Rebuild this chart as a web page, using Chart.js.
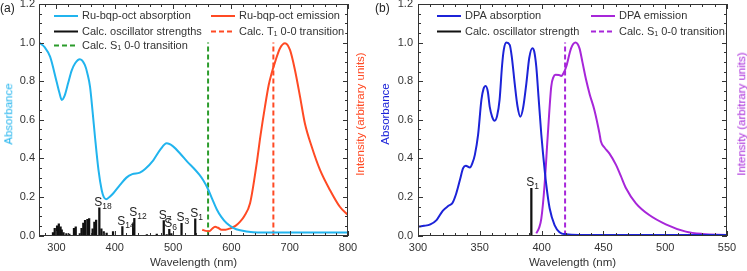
<!DOCTYPE html>
<html>
<head>
<meta charset="utf-8">
<script src="https://cdn.jsdelivr.net/npm/chart.js@4"></script>
<style>
  body { margin: 0; background: #fff; width: 747px; height: 271px; position: relative; overflow: hidden;
         font-family: "Liberation Sans", Arial, sans-serif; }
  .panel { position: absolute; top: 0; height: 271px; }
  #pa { left: 0; width: 380px; }
  #pb { left: 380px; width: 367px; }
  .tag { position: absolute; font-size: 12px; color: #222; line-height: 1; }
  .vt { position: absolute; font-size: 11.5px; white-space: nowrap; line-height: 1;
        transform: translate(-50%, -50%) rotate(-90deg); }
</style>
</head>
<body>
<div class="panel" id="pa"><canvas id="chartA"></canvas></div>
<div class="panel" id="pb"><canvas id="chartB"></canvas></div>

<div class="tag" style="left:0;top:2px">(a)</div>
<div class="tag" style="left:375px;top:2px">(b)</div>
<div class="vt" style="left:9px;top:114px;color:#21b4ee">Absorbance</div>
<div class="vt" style="left:361px;top:114px;color:#ff4a24">Intensity (arbitrary units)</div>
<div class="vt" style="left:386px;top:114px;color:#1c23d8">Absorbance</div>
<div class="vt" style="left:742px;top:114px;color:#a726d9">Intensity (arbitrary units)</div>

<script>
// ── Panel (a): Ru-bqp-oct ───────────────────────────────────────
const aAbsX = [270, 280, 289, 300, 305, 309, 314, 320, 326, 332, 340, 348.6, 353, 357.5, 362, 366, 372, 377.5, 381,
  385, 391, 397.5, 409, 420, 430, 443, 452, 466, 478, 489, 500, 512, 525, 535, 545, 552, 560, 567, 575, 583, 592,
  603, 615, 637, 680, 740, 800];
const aAbsY = [1.0, 0.975, 0.927, 0.80, 0.74, 0.703, 0.725, 0.79, 0.855, 0.893, 0.914, 0.884, 0.84, 0.772, 0.64,
  0.512, 0.34, 0.236, 0.2, 0.188, 0.2, 0.219, 0.262, 0.3, 0.318, 0.326, 0.345, 0.39, 0.445, 0.478, 0.462, 0.425,
  0.38, 0.35, 0.315, 0.285, 0.24, 0.19, 0.135, 0.095, 0.063, 0.04, 0.027, 0.017, 0.015, 0.015, 0.015];

const aEmX = [550, 556, 562, 567, 572, 577, 583, 590, 598, 607, 615, 622, 632, 643.4, 650, 657.6, 664, 669, 675,
  683.4, 692, 700.5, 709, 717.7, 726, 737.8, 752, 769, 786, 800];
const aEmY = [0.03, 0.024, 0.022, 0.035, 0.045, 0.04, 0.03, 0.03, 0.037, 0.05, 0.072, 0.1, 0.167, 0.374, 0.52,
  0.668, 0.78, 0.841, 0.9, 0.971, 0.997, 0.962, 0.858, 0.72, 0.582, 0.46, 0.34, 0.236, 0.149, 0.106];

// Oscillator strengths (sticks)
const aOscX = [294, 297, 301, 304, 307, 309, 312, 317, 322, 330, 333, 340, 343, 346, 349, 353, 356, 362, 365, 368,
  373.5, 377, 381, 386, 397, 413, 431.5, 433.5, 455, 472, 484, 489, 493.5, 497, 514.5, 538];
const aOscY = [0.015, 0.037, 0.05, 0.06, 0.045, 0.03, 0.015, 0.01, 0.007, 0.037, 0.045, 0.01, 0.037, 0.065, 0.078,
  0.084, 0.088, 0.035, 0.07, 0.08, 0.144, 0.035, 0.02, 0.012, 0.02, 0.046, 0.06, 0.089, 0.005, 0.008, 0.077, 0.005,
  0.032, 0.01, 0.063, 0.086];
const aStateX = [373.5, 413, 433.5, 484, 493.5, 514.5, 538];
const aStateN = ['18', '14', '12', '7', '6', '3', '1'];

const aS1 = 560;   // Calc. S1 0-0
const aT1 = 672;   // Calc. T1 0-0
const aXTicks = [300, 400, 500, 600, 700, 800];

// ── Panel (b): DPA ──────────────────────────────────────────────
const bAbsX = [300, 305, 310, 315, 320, 325, 328, 331, 334, 336.5, 338.7, 342, 344, 346, 348.6, 351.3, 353, 354.8,
  356.5, 358, 360, 362, 364, 366, 368, 369.4, 371.5, 374.2, 376, 378.2, 380.5, 382.8, 385, 387.7, 390, 392.5, 394,
  395.7, 397.5, 399.8, 401, 403.8, 406.5, 410.5, 414.5, 420, 430, 550];
const bAbsY = [0.046, 0.05, 0.058, 0.08, 0.128, 0.155, 0.17, 0.219, 0.29, 0.349, 0.362, 0.352, 0.375, 0.418, 0.521,
  0.703, 0.76, 0.775, 0.745, 0.668, 0.615, 0.595, 0.62, 0.703, 0.88, 0.962, 1.0, 0.988, 0.92, 0.79, 0.67, 0.616,
  0.66, 0.79, 0.92, 0.971, 0.955, 0.875, 0.72, 0.521, 0.435, 0.262, 0.141, 0.054, 0.017, 0.006, 0.003, 0.003];

const bEmX = [395.7, 398, 399.8, 402.4, 405, 407.8, 409.5, 411.3, 414, 415.9, 418, 419.9, 423.9, 427.4, 430.6, 433,
  436, 439, 442.7, 446.8, 448, 451, 454.8, 460.2, 464, 468.3, 476.3, 487.1, 500.5, 516.7, 530, 550];
const bEmY = [0.011, 0.04, 0.089, 0.262, 0.521, 0.772, 0.82, 0.833, 0.832, 0.827, 0.845, 0.875, 0.971, 1.0, 0.971,
  0.9, 0.807, 0.73, 0.651, 0.53, 0.487, 0.455, 0.426, 0.366, 0.31, 0.245, 0.167, 0.106, 0.058, 0.02, 0.008, 0.003];

const bOscX = [391.7];
const bOscY = [0.245];
const bStateX = [391.7];
const bStateN = ['1'];
const bS1 = 419;
const bXTicks = [300, 350, 400, 450, 500, 550];

const yTicks = [0, 0.2, 0.4, 0.6, 0.8, 1.0, 1.2];

// ── Cores ───────────────────────────────────────────────────────
const CYAN = '#21b4ee', RED = '#ff4a24', GREEN = '#2b9b2b', BLUE = '#1c23d8', PURPLE = '#a726d9', INK = '#111';
const FONT = '"Liberation Sans", Arial, sans-serif';

const pts = (xs, ys) => xs.map((x, i) => ({ x, y: ys[i] }));
const vline = x => [{ x, y: 0 }, { x, y: 1 }];

// ── Plugins ─────────────────────────────────────────────────────
// Moldura com ticks para dentro, nos 4 lados (feito com fillRect)
const framePlugin = {
  id: 'frame',
  afterDatasetsDraw(chart, args, o) {
    const { ctx, chartArea: a, scales: { x, y } } = chart;
    const L = Math.round(a.left), R = Math.round(a.right), T = Math.round(a.top), B = Math.round(a.bottom);
    ctx.save();
    ctx.fillStyle = '#333';
    ctx.fillRect(L, T, R - L, 1);
    ctx.fillRect(L, B - 1, R - L, 1);
    ctx.fillRect(L, T, 1, B - T);
    ctx.fillRect(R - 1, T, 1, B - T);
    const isMajor = (v, step) => Math.abs(v / step - Math.round(v / step)) < 1e-6;
    for (let v = Math.ceil(x.min / o.xMinor) * o.xMinor; v <= x.max + 1e-6; v += o.xMinor) {
      const px = Math.round(x.getPixelForValue(v));
      const len = isMajor(v, o.xMajor) ? 5 : 3;
      ctx.fillRect(px, B - len, 1, len);
      ctx.fillRect(px, T, 1, len);
    }
    for (let v = 0; v <= y.max + 1e-6; v += 0.05) {
      const py = Math.round(y.getPixelForValue(v));
      const len = isMajor(v, 0.2) ? 5 : 3;
      ctx.fillRect(L, py, len, 1);
      ctx.fillRect(R - len, py, len, 1);
    }
    ctx.restore();
  }
};

// Rótulos S_n sobre as barras de força do oscilador
const stickLabelPlugin = {
  id: 'stickLabels',
  afterDatasetsDraw(chart, args, o) {
    const { ctx, scales: { x, y } } = chart;
    ctx.save();
    ctx.fillStyle = '#222';
    o.xs.forEach((xv, i) => {
      const yv = o.stickY[o.stickX.indexOf(xv)];
      const px = x.getPixelForValue(xv) - 1;
      const py = y.getPixelForValue(yv) - 2;
      ctx.font = '12px ' + FONT;
      ctx.textAlign = 'center';
      ctx.textBaseline = 'alphabetic';
      ctx.fillText('S', px, py);
      ctx.font = '8.5px ' + FONT;
      ctx.textAlign = 'left';
      ctx.fillText(o.nums[i], px + 4, py + 3);
    });
    ctx.restore();
  }
};

// Legenda em grade (colunas x linhas) dentro do gráfico
const gridLegendPlugin = {
  id: 'gridLegend',
  afterDraw(chart, args, o) {
    const { ctx } = chart;
    ctx.save();
    ctx.font = '11px ' + FONT;
    ctx.textBaseline = 'middle';
    ctx.textAlign = 'left';
    chart.data.datasets.forEach(ds => {
      if (!ds.leg) return;
      const x0 = o.cols[ds.leg[0]], yy = o.rows[ds.leg[1]];
      const tx = x0 + o.lineW + 4;
      // fundo branco atrás do texto
      ctx.fillStyle = '#fff';
      ctx.fillRect(tx - 1, yy - 6, ctx.measureText(ds.label).width + 2, 12);
      ctx.fillStyle = ds.legColor || ds.borderColor;
      if (ds.borderDash) {
        for (let d = 0; d < o.lineW; d += 8) ctx.fillRect(x0 + d, yy - 1, Math.min(5, o.lineW - d), 2);
      } else {
        ctx.fillRect(x0, yy - 1, o.lineW, 2);
      }
      ctx.fillStyle = '#333';
      ctx.fillText(ds.label, tx, yy);
    });
    ctx.restore();
  }
};

// ── Construção ──────────────────────────────────────────────────
function montarGrafico(canvasId, cfg) {
  const curve = (label, data, color, axis, leg) => ({
    type: 'line', label, data, borderColor: color, borderWidth: 2, pointRadius: 0,
    cubicInterpolationMode: 'monotone', yAxisID: axis, leg
  });
  const dashed = (label, x, color, axis, leg) => ({
    type: 'line', label, data: vline(x), borderColor: color, borderWidth: 2, borderDash: [5, 3],
    pointRadius: 0, yAxisID: axis, leg
  });

  const datasets = [
    curve(cfg.absLabel, pts(cfg.absX, cfg.absY), cfg.absColor, 'y', [0, 0]),
    {
      type: 'bar', label: cfg.oscLabel, data: pts(cfg.oscX, cfg.oscY), backgroundColor: INK,
      legColor: INK, barThickness: 1.6, yAxisID: 'y', grouped: false, leg: [0, 1]
    },
    curve(cfg.emLabel, pts(cfg.emX, cfg.emY), cfg.emColor, 'y1', [1, 0])
  ];
  cfg.dashes.forEach(d => datasets.push(dashed(d.label, d.x, d.color, d.axis, d.leg)));

  const yScale = (pos, width, showLabels, padding) => ({
    type: 'linear', position: pos, min: 0, max: 1.2,
    grid: { display: false, drawTicks: false }, border: { display: false },
    afterBuildTicks: s => { s.ticks = yTicks.map(v => ({ value: v })); },
    afterFit: s => { s.width = width; s.paddingTop = 0; s.paddingBottom = 0; },
    ticks: {
      display: showLabels, autoSkip: false, padding,
      callback: v => v.toFixed(1), color: '#333', font: { family: FONT, size: 11 }
    }
  });

  return new Chart(document.getElementById(canvasId), {
    type: 'line',
    data: { datasets },
    plugins: [framePlugin, stickLabelPlugin, gridLegendPlugin],
    options: {
      responsive: true,
      maintainAspectRatio: false,
      animation: false,
      events: [],
      layout: { padding: { top: 4, left: 0, right: 0, bottom: 0 } },
      scales: {
        x: {
          type: 'linear', min: cfg.xMin, max: cfg.xMax, offset: false,
          grid: { display: false, drawTicks: false, offset: false }, border: { display: false },
          afterBuildTicks: s => { s.ticks = cfg.xTicks.map(v => ({ value: v })); },
          afterFit: s => { s.height = 35.5; s.paddingLeft = 0; s.paddingRight = 0; },
          ticks: { autoSkip: false, maxRotation: 0, padding: 6, color: '#333', font: { family: FONT, size: 11 } },
          title: {
            display: true, text: 'Wavelength (nm)', color: '#333',
            font: { family: FONT, size: 11.5 }, padding: { top: 0, bottom: 1.5 }
          }
        },
        y: yScale('left', cfg.leftW, true, cfg.tickPad),
        y1: yScale('right', cfg.rightW, false, 0)
      },
      plugins: {
        legend: { display: false },
        tooltip: { enabled: false },
        frame: { xMinor: cfg.xMinor, xMajor: cfg.xMajor },
        stickLabels: { xs: cfg.stateX, nums: cfg.stateN, stickX: cfg.oscX, stickY: cfg.oscY },
        gridLegend: { cols: cfg.legCols, rows: [16, 31.5, 45.5], lineW: 24 }
      }
    }
  });
}

document.addEventListener('DOMContentLoaded', function () {
  montarGrafico('chartA', {
    xMin: 270, xMax: 800, xTicks: aXTicks, xMinor: 20, xMajor: 100, leftW: 39, rightW: 32, tickPad: 4,
    absLabel: 'Ru-bqp-oct absorption', absX: aAbsX, absY: aAbsY, absColor: CYAN,
    emLabel: 'Ru-bqp-oct emission', emX: aEmX, emY: aEmY, emColor: RED,
    oscLabel: 'Calc. oscillator strengths', oscX: aOscX, oscY: aOscY,
    stateX: aStateX, stateN: aStateN,
    dashes: [
      { label: 'Calc. S\u2081 0-0 transition', x: aS1, color: GREEN, axis: 'y', leg: [0, 2] },
      { label: 'Calc. T\u2081 0-0 transition', x: aT1, color: RED, axis: 'y1', leg: [1, 1] }
    ],
    legCols: [54, 211]
  });

  montarGrafico('chartB', {
    xMin: 300, xMax: 550, xTicks: bXTicks, xMinor: 10, xMajor: 50, leftW: 38, rightW: 20, tickPad: 5,
    absLabel: 'DPA absorption', absX: bAbsX, absY: bAbsY, absColor: BLUE,
    emLabel: 'DPA emission', emX: bEmX, emY: bEmY, emColor: PURPLE,
    oscLabel: 'Calc. oscillator strength', oscX: bOscX, oscY: bOscY,
    stateX: bStateX, stateN: bStateN,
    dashes: [
      { label: 'Calc. S\u2081 0-0 transition', x: bS1, color: PURPLE, axis: 'y1', leg: [1, 1] }
    ],
    legCols: [57, 211]
  });
});
</script>
</body>
</html>
